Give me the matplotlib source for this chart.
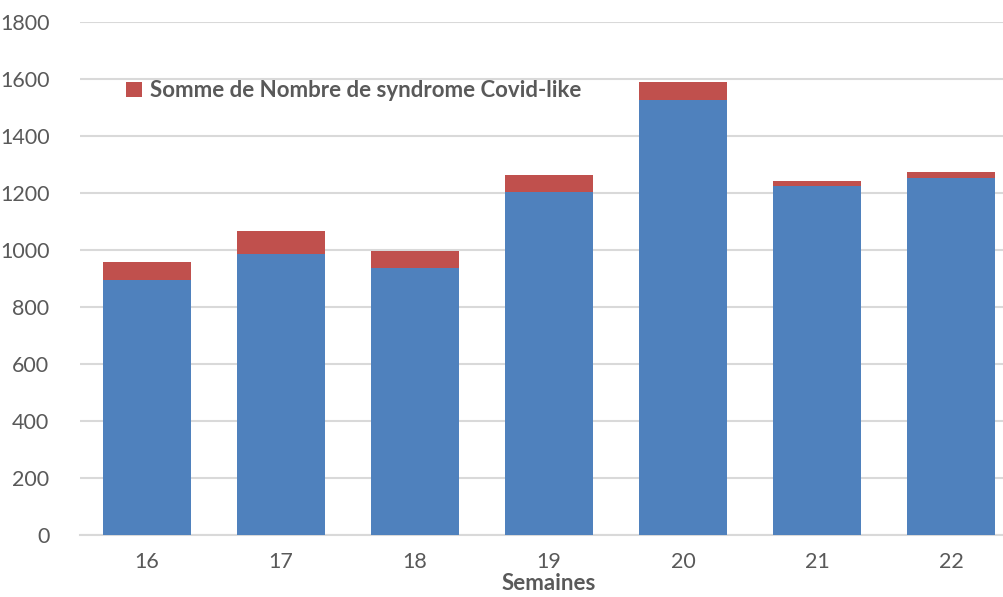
import numpy as np
from matplotlib import pyplot as plt

semaines = ["16", "17", "18", "19", "20", "21", "22"]
autres = [895, 986, 936, 1203, 1526, 1223, 1252]
covid_like = [63, 80, 59, 61, 63, 20, 22]

gris = "#595959"
plt.rcParams["font.family"] = ["Lato", "DejaVu Sans"]

fig = plt.figure(figsize=(10.04, 5.97), dpi=100)
# l'axe deborde a droite comme dans l'original
ax = fig.add_axes([80 / 1004, 62 / 597, 938 / 1004, 513 / 597])

x = np.arange(len(semaines))
ax.bar(x, autres, width=0.66, color="#4F81BD", zorder=3)
ax.bar(x, covid_like, width=0.66, bottom=autres, color="#C0504D", zorder=3,
       label="Somme de Nombre de syndrome Covid-like")

ax.set_xlim(-0.5, len(semaines) - 0.5)
ax.set_ylim(0, 1800)
ax.set_yticks(np.arange(0, 1801, 200))
ax.set_xticks(x)
ax.set_xticklabels(semaines)
ax.tick_params(length=0, labelsize=15.5, labelcolor=gris)
ax.tick_params(axis="y", pad=22)
ax.tick_params(axis="x", pad=12)
ax.yaxis.grid(True, color="#d9d9d9", linewidth=1.5, zorder=0)
for s in ["top", "right", "left"]:
    ax.spines[s].set_visible(False)
ax.spines["bottom"].set_color("#d9d9d9")
ax.spines["bottom"].set_linewidth(1.5)

ax.set_xlabel("Semaines", fontsize=16, fontweight="bold", color=gris, labelpad=1)

leg = ax.legend(loc="upper left", bbox_to_anchor=(0.028, 0.925), frameon=False,
                handlelength=0.7, handleheight=0.7, handletextpad=0.35,
                prop={"size": 16, "weight": "bold"})
for t in leg.get_texts():
    t.set_color(gris)

plt.savefig("out.png", dpi=100)
plt.close()
